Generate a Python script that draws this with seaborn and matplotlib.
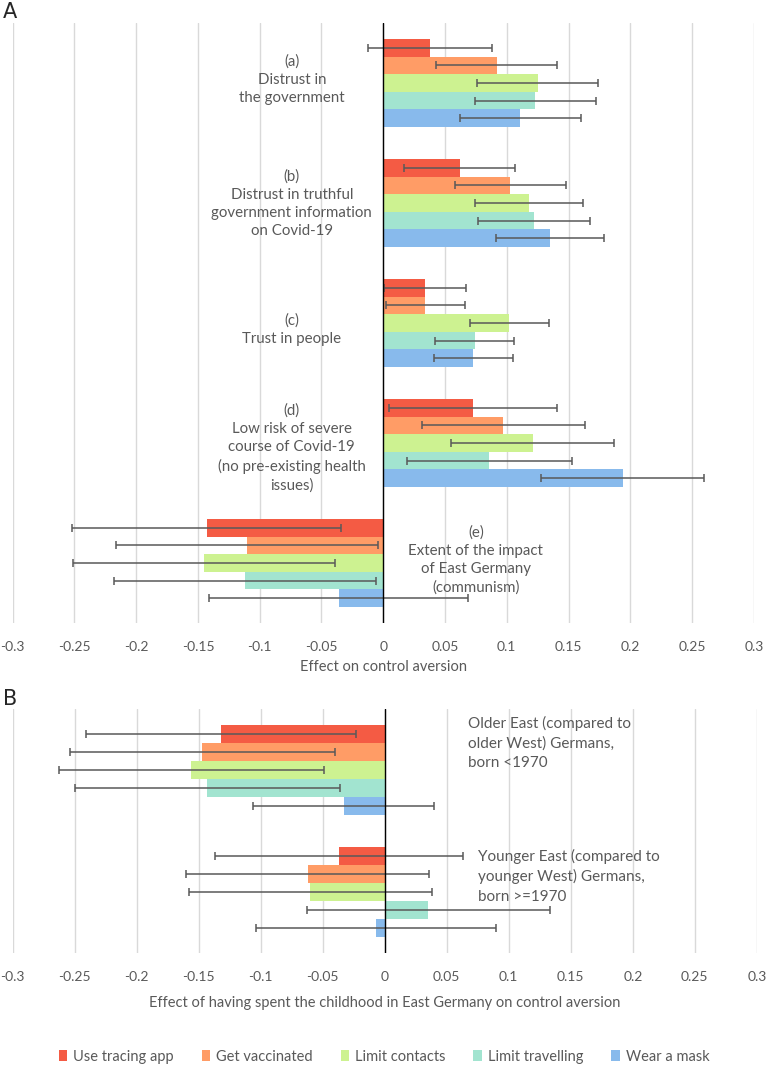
import matplotlib
matplotlib.use("Agg")
import matplotlib.pyplot as plt
from matplotlib.patches import Patch
import seaborn as sns
import pandas as pd

sns.set_style("white")
plt.rcParams['font.family'] = ['Lato', 'DejaVu Sans']

measures = ["Use tracing app", "Get vaccinated", "Limit contacts", "Limit travelling", "Wear a mask"]
colors = ["#F45B44", "#FF9C66", "#CDF291", "#A2E4D0", "#88BAEC"]

# panel A: effect on control aversion
groups_a = ["(a)\nDistrust in\nthe government",
            "(b)\nDistrust in truthful\ngovernment information\non Covid-19",
            "(c)\nTrust in people",
            "(d)\nLow risk of severe\ncourse of Covid-19\n(no pre-existing health\nissues)",
            "(e)\nExtent of the impact\nof East Germany\n(communism)"]
values_a = [[0.038, 0.092, 0.125, 0.123, 0.111],
            [0.062, 0.103, 0.118, 0.122, 0.135],
            [0.034, 0.034, 0.102, 0.074, 0.073],
            [0.073, 0.097, 0.121, 0.086, 0.194],
            [-0.143, -0.110, -0.145, -0.112, -0.036]]
errors_a = [[0.050, 0.049, 0.049, 0.049, 0.049],
            [0.045, 0.045, 0.044, 0.045, 0.044],
            [0.033, 0.032, 0.032, 0.032, 0.032],
            [0.068, 0.066, 0.066, 0.067, 0.066],
            [0.109, 0.106, 0.106, 0.106, 0.105]]

# panel B: effect of childhood in East Germany
groups_b = ["Older East (compared to\nolder West) Germans,\nborn <1970",
            "Younger East (compared to\nyounger West) Germans,\nborn >=1970"]
values_b = [[-0.132, -0.147, -0.156, -0.143, -0.033],
            [-0.037, -0.062, -0.060, 0.035, -0.007]]
errors_b = [[0.109, 0.107, 0.107, 0.107, 0.073],
            [0.100, 0.098, 0.098, 0.098, 0.097]]

ticks = [-0.3, -0.25, -0.2, -0.15, -0.1, -0.05, 0, 0.05, 0.1, 0.15, 0.2, 0.25, 0.3]
tick_labels = ["-0.3", "-0.25", "-0.2", "-0.15", "-0.1", "-0.05", "0",
               "0.05", "0.1", "0.15", "0.2", "0.25", "0.3"]

GREY = "#595959"


def long_df(groups, values, errors):
    rows = []
    for g, vals, errs in zip(groups, values, errors):
        for m, v, e in zip(measures, vals, errs):
            rows.append({"group": g, "measure": m, "value": v, "err": e})
    return pd.DataFrame(rows)


def draw_panel(ax, df, xlabel, labelpad):
    n = df["group"].nunique()
    sns.barplot(data=df, x="value", y="group", hue="measure", orient="h",
                hue_order=measures, palette=colors, width=0.733, saturation=1,
                errorbar=None, linewidth=0, legend=False, ax=ax)
    # error bars at the centre of each bar
    for m, cont in zip(measures, ax.containers):
        sub = df[df["measure"] == m]
        ys = [b.get_y() + b.get_height() / 2 for b in cont]
        ax.errorbar(sub["value"].values, ys, xerr=sub["err"].values, fmt="none",
                    ecolor=GREY, elinewidth=1.1, capsize=3, capthick=1.1, zorder=4)
    ax.set_ylim(n - 0.5, -0.5)
    ax.set_xlim(-0.3, 0.3)
    ax.set_xticks(ticks)
    ax.set_xticklabels(tick_labels, color=GREY, fontsize=10)
    ax.tick_params(axis="x", length=0, pad=13)
    ax.set_yticks([])
    ax.set_ylabel("")
    ax.set_xlabel(xlabel, color=GREY, fontsize=10.5, labelpad=labelpad)
    ax.grid(axis="x", color="#D9D9D9", linewidth=1)
    ax.set_axisbelow(True)
    for s in ax.spines.values():
        s.set_visible(False)
    ax.axvline(0, color="black", linewidth=1, zorder=5)


fig = plt.figure(figsize=(7.68, 10.66), dpi=100)
axA = fig.add_axes([0.0165, 0.4156, 0.965, 0.5629])
axB = fig.add_axes([0.0165, 0.106, 0.969, 0.2289])

draw_panel(axA, long_df(groups_a, values_a, errors_a), "Effect on control aversion", 5)
draw_panel(axB, long_df(groups_b, values_b, errors_b),
           "Effect of having spent the childhood in East Germany on control aversion", 9)

# group descriptions
label_x_a = [-0.074, -0.074, -0.074, -0.074, 0.075]
label_y_a = [-0.025, 1.008, 2.058, 3.042, 3.975]
for txt, x, y in zip(groups_a, label_x_a, label_y_a):
    axA.text(x, y, txt, ha="center", va="center", multialignment="center",
             color=GREY, fontsize=10.8, linespacing=1.38)

label_x_b = [0.067, 0.075]
label_y_b = [-0.221, 0.869]
for txt, x, y in zip(groups_b, label_x_b, label_y_b):
    axB.text(x, y, txt, ha="left", va="center", multialignment="left",
             color=GREY, fontsize=11, linespacing=1.47)

fig.text(0.004, 0.989, "A", fontsize=15, va="center", ha="left", family="DejaVu Sans")
fig.text(0.004, 0.344, "B", fontsize=15, va="center", ha="left", family="DejaVu Sans")

handles = [Patch(facecolor=c, edgecolor="none", label=m) for m, c in zip(measures, colors)]
leg = fig.legend(handles=handles, loc="center", bbox_to_anchor=(0.5, 0.0086), ncol=5,
                 frameon=False, fontsize=10.5, handlelength=0.6, handleheight=0.75,
                 handletextpad=0.4, columnspacing=1.9)
for t in leg.get_texts():
    t.set_color(GREY)

fig.savefig("out.png", dpi=100)
